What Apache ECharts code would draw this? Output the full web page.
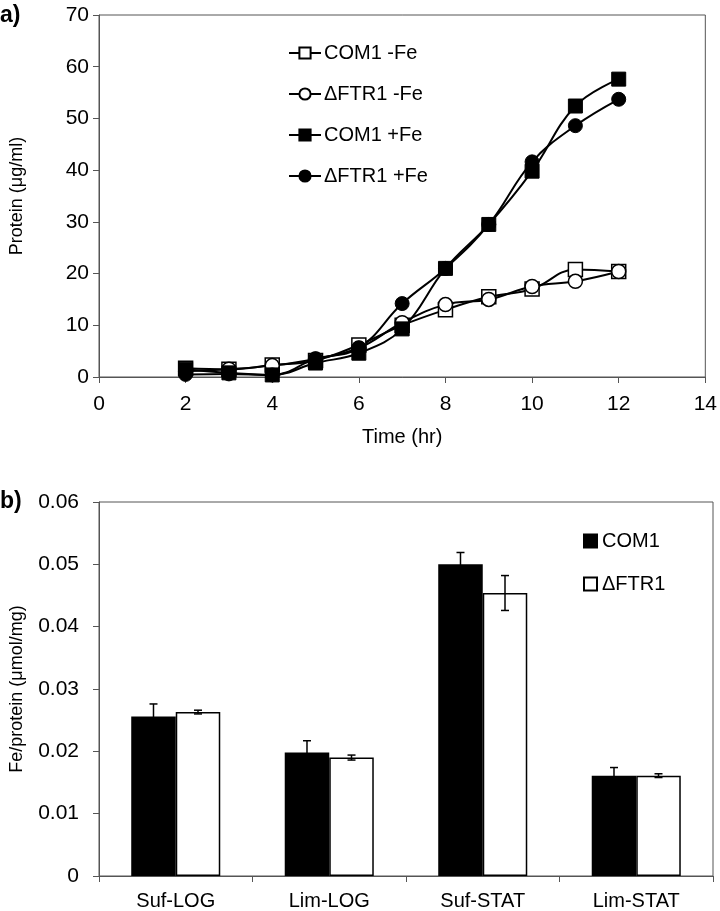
<!DOCTYPE html>
<html>
<head>
<meta charset="utf-8">
<script src="https://cdn.jsdelivr.net/npm/echarts@6/dist/echarts.min.js"></script>
<style>
html,body{margin:0;padding:0;background:#fff;}
#chart{width:720px;height:911px;}
</style>
</head>
<body>
<div id="chart"></div>
<script>
// ---- Panel a) data ----
const timeHours = [2, 3, 4, 5, 6, 7, 8, 9, 10, 11, 12];
const com1MinusFe = [1.7, 1.5, 2.3, 3.2, 6.2, 10.0, 13.0, 15.5, 17.0, 20.8, 20.4];
const ftr1MinusFe = [1.1, 1.5, 2.2, 3.5, 5.6, 10.5, 14.0, 15.0, 17.5, 18.5, 20.4];
const com1PlusFe = [1.5, 0.8, 0.4, 2.7, 4.6, 9.3, 21.0, 29.5, 39.8, 52.4, 57.6];
const ftr1PlusFe = [0.5, 0.6, 0.4, 3.5, 5.6, 14.2, 21.0, 29.5, 41.6, 48.6, 53.7];
const seriesNamesA = ['COM1 -Fe', '\u0394FTR1 -Fe', 'COM1 +Fe', '\u0394FTR1 +Fe'];

// ---- Panel b) data ----
const conditions = ['Suf-LOG', 'Lim-LOG', 'Suf-STAT', 'Lim-STAT'];
const com1Fe = [0.0256, 0.0198, 0.0500, 0.0161];
const com1Err = [0.0020, 0.0019, 0.0019, 0.0013];
const ftr1Fe = [0.0263, 0.0190, 0.0454, 0.0161];
const ftr1Err = [0.0003, 0.0004, 0.0028, 0.0003];
const seriesNamesB = ['COM1', '\u0394FTR1'];

const FONT = '"Liberation Sans", Arial, sans-serif';
const chart = echarts.init(document.getElementById('chart'), null, {renderer: 'canvas'});

function pairs(xs, ys) { return xs.map((x, i) => [x, ys[i]]); }

const lineBase = {
  type: 'line', xAxisIndex: 0, yAxisIndex: 0, smooth: 0.4,
  symbolSize: 14,
  lineStyle: {color: '#000', width: 2},
  emphasis: {disabled: true},
  z: 3
};

const BAR_FRAC = 0.29;
function errRender(offsetSign) {
  return function (params, api) {
    const cat = api.value(0);
    const low = api.coord([cat, api.value(1)]);
    const high = api.coord([cat, api.value(2)]);
    const band = api.size([1, 0])[0];
    const x = low[0] + offsetSign * band * BAR_FRAC / 2;
    const cap = 4;
    const style = {stroke: '#000', lineWidth: 1.5, fill: null};
    return {
      type: 'group',
      children: [
        {type: 'line', shape: {x1: x, y1: low[1], x2: x, y2: high[1]}, style},
        {type: 'line', shape: {x1: x - cap, y1: low[1], x2: x + cap, y2: low[1]}, style},
        {type: 'line', shape: {x1: x - cap, y1: high[1], x2: x + cap, y2: high[1]}, style}
      ]
    };
  };
}

const tickText = {color: '#000', fontSize: 21, fontFamily: FONT};
const catText = {color: '#000', fontSize: 20, fontFamily: FONT};
const nameTextX = {color: '#000', fontSize: 20, fontFamily: FONT};
const nameTextY = {color: '#000', fontSize: 18, fontFamily: FONT};

const option = {
  animation: false,
  backgroundColor: '#fff',
  textStyle: {fontFamily: FONT},
  graphic: [
    {type: 'text', left: 0, top: 4, style: {text: 'a)', font: 'bold 23px ' + FONT, fill: '#000'}},
    {type: 'text', left: 0, top: 490, style: {text: 'b)', font: 'bold 23px ' + FONT, fill: '#000'}}
  ],
  legend: [
    {
      data: seriesNamesA.map(n => ({name: n})),
      orient: 'vertical', left: 283, top: 38,
      itemWidth: 32, itemHeight: 14, itemGap: 21,
      textStyle: {color: '#000', fontSize: 20, lineHeight: 20, fontFamily: FONT, padding: [0, 0, 0, -2]},
      selectedMode: false
    },
    {
      data: seriesNamesB.map(n => ({name: n, icon: 'rect'})),
      orient: 'vertical', left: 578, top: 526,
      itemWidth: 13, itemHeight: 13, itemGap: 23,
      textStyle: {color: '#000', fontSize: 20, lineHeight: 20, fontFamily: FONT, padding: [0, 0, 0, 0]},
      selectedMode: false
    }
  ],
  grid: [
    {left: 97, top: 15, width: 616, height: 362, show: true, borderColor: '#555', borderWidth: 1, backgroundColor: 'transparent'},
    {left: 97, top: 502, width: 616, height: 374, show: true, borderColor: '#555', borderWidth: 1, backgroundColor: 'transparent'}
  ],
  xAxis: [
    {
      gridIndex: 0, type: 'value', min: 0, max: 14, interval: 2,
      name: 'Time (hr)', nameLocation: 'middle', nameGap: 50,
      nameTextStyle: nameTextX,
      axisLine: {show: true, onZero: false, lineStyle: {color: '#555', width: 1}},
      axisTick: {show: true, inside: false, length: 6, lineStyle: {color: '#555'}},
      axisLabel: Object.assign({margin: 17}, tickText),
      splitLine: {show: false}
    },
    {
      gridIndex: 1, type: 'category', data: conditions, boundaryGap: true,
      axisLine: {show: true, onZero: false, lineStyle: {color: '#555', width: 1}},
      axisTick: {show: true, inside: false, length: 6, alignWithLabel: false, lineStyle: {color: '#555'}},
      axisLabel: Object.assign({margin: 15}, catText),
      splitLine: {show: false}
    }
  ],
  yAxis: [
    {
      gridIndex: 0, type: 'value', min: 0, max: 70, interval: 10,
      name: 'Protein (\u03bcg/ml)', nameLocation: 'middle', nameGap: 73, nameRotate: 90,
      nameTextStyle: nameTextY,
      axisLine: {show: true, lineStyle: {color: '#555', width: 1}},
      axisTick: {show: true, inside: false, length: 6, lineStyle: {color: '#555'}},
      axisLabel: Object.assign({margin: 10}, tickText),
      splitLine: {show: false}
    },
    {
      gridIndex: 1, type: 'value', min: 0, max: 0.06, interval: 0.01,
      name: 'Fe/protein (\u03bcmol/mg)', nameLocation: 'middle', nameGap: 73, nameRotate: 90,
      nameTextStyle: nameTextY,
      axisLine: {show: true, lineStyle: {color: '#555', width: 1}},
      axisTick: {show: true, inside: false, length: 6, lineStyle: {color: '#555'}},
      axisLabel: Object.assign({margin: 20, formatter: v => (v === 0 ? '0' : v.toFixed(2))}, tickText),
      splitLine: {show: false}
    }
  ],
  series: [
    Object.assign({}, lineBase, {
      name: seriesNamesA[0], data: pairs(timeHours, com1MinusFe), symbol: 'rect',
      itemStyle: {color: '#fff', borderColor: '#000', borderWidth: 1.5}
    }),
    Object.assign({}, lineBase, {
      name: seriesNamesA[1], data: pairs(timeHours, ftr1MinusFe), symbol: 'circle',
      itemStyle: {color: '#fff', borderColor: '#000', borderWidth: 1.5}
    }),
    Object.assign({}, lineBase, {
      name: seriesNamesA[2], data: pairs(timeHours, com1PlusFe), symbol: 'rect',
      itemStyle: {color: '#000', borderColor: '#000', borderWidth: 1}
    }),
    Object.assign({}, lineBase, {
      name: seriesNamesA[3], data: pairs(timeHours, ftr1PlusFe), symbol: 'circle',
      itemStyle: {color: '#000', borderColor: '#000', borderWidth: 1}
    }),
    {
      name: seriesNamesB[0], type: 'bar', xAxisIndex: 1, yAxisIndex: 1,
      data: com1Fe, barWidth: (BAR_FRAC * 100) + '%', barGap: '0%',
      itemStyle: {color: '#000', borderColor: '#000', borderWidth: 1.5},
      emphasis: {disabled: true}
    },
    {
      name: seriesNamesB[1], type: 'bar', xAxisIndex: 1, yAxisIndex: 1,
      data: ftr1Fe, barWidth: (BAR_FRAC * 100) + '%', barGap: '0%',
      itemStyle: {color: '#fff', borderColor: '#000', borderWidth: 1.5},
      emphasis: {disabled: true}
    },
    {
      type: 'custom', xAxisIndex: 1, yAxisIndex: 1,
      renderItem: errRender(-1),
      data: com1Fe.map((v, i) => [i, v - com1Err[i], v + com1Err[i]]),
      encode: {x: 0, y: [1, 2]}, z: 5, silent: true
    },
    {
      type: 'custom', xAxisIndex: 1, yAxisIndex: 1,
      renderItem: errRender(1),
      data: ftr1Fe.map((v, i) => [i, v - ftr1Err[i], v + ftr1Err[i]]),
      encode: {x: 0, y: [1, 2]}, z: 5, silent: true
    }
  ]
};
chart.setOption(option);
</script>
</body>
</html>
